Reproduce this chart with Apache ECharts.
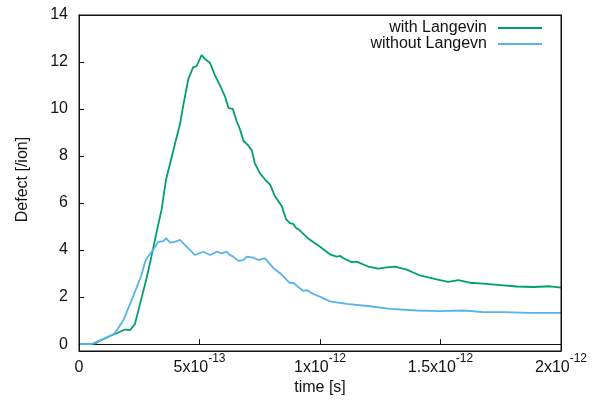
<!DOCTYPE html>
<html>
<head>
<meta charset="utf-8">
<script src="https://cdn.jsdelivr.net/npm/echarts@6/dist/echarts.min.js"></script>
<style>
html,body{margin:0;padding:0;background:#fff;overflow:hidden}
#wrap{position:relative;width:599px;height:401px}
#c,#f{position:absolute;left:0;top:0;width:599px;height:401px}
#f{pointer-events:none;z-index:2}
</style>
</head>
<body>
<div id="wrap"><div id="c"></div><div id="f"></div></div>
<script>
// time in units of 1e-13 s
var timeWith = [0,0.4,0.66,0.87,1.2,1.56,1.91,2.12,2.32,2.53,2.81,3.02,3.22,3.43,3.61,3.78,3.98,4.05,4.19,4.33,4.54,4.74,4.88,5.09,5.23,5.44,5.5,5.64,5.85,6.06,6.2,6.38,6.54,6.68,6.82,7.02,7.17,7.3,7.51,7.72,7.93,8.13,8.41,8.59,8.75,8.89,9.0,9.17,9.51,10.0,10.41,10.69,10.85,10.97,11.31,11.52,12.0,12.42,12.77,13.11,13.6,14.15,14.84,15.32,15.74,16.22,16.78,17.61,18.16,18.85,19.54,20];
var defectWith = [0,0,0.02,0.15,0.3,0.46,0.62,0.6,0.85,1.7,2.82,3.8,4.76,5.74,6.99,7.68,8.51,8.79,9.35,10.18,11.29,11.78,11.82,12.29,12.13,11.96,11.94,11.43,11.01,10.53,10.04,10.01,9.49,9.14,8.65,8.45,8.24,7.68,7.26,7.0,6.78,6.29,5.88,5.32,5.15,5.11,4.95,4.83,4.49,4.14,3.82,3.72,3.75,3.65,3.49,3.51,3.3,3.21,3.26,3.3,3.17,2.92,2.75,2.65,2.72,2.61,2.57,2.5,2.45,2.43,2.46,2.4];
var timeWithout = [0,0.5,0.87,1.2,1.49,1.84,2.12,2.39,2.6,2.74,2.81,3.02,3.29,3.5,3.61,3.78,3.98,4.19,4.4,4.61,4.81,5.16,5.44,5.71,5.92,6.13,6.25,6.4,6.61,6.82,6.96,7.23,7.44,7.72,8.06,8.41,8.73,8.9,9.1,9.31,9.45,9.72,10.07,10.41,11.11,12.07,12.9,14.01,14.98,15.95,16.78,17.61,18.71,20];
var defectWithout = [0,0,0.15,0.3,0.46,1.01,1.71,2.4,2.96,3.5,3.65,3.93,4.35,4.38,4.51,4.32,4.35,4.43,4.21,4.0,3.79,3.93,3.79,3.93,3.86,3.93,3.8,3.72,3.54,3.57,3.72,3.68,3.58,3.65,3.24,2.96,2.61,2.6,2.43,2.26,2.3,2.13,1.99,1.82,1.71,1.61,1.5,1.43,1.4,1.43,1.36,1.36,1.33,1.33];
var seriesNames = ['with Langevin', 'without Langevn'];
var xTickLabels = {0: ['0', ''], 5: ['5x10', '-13'], 10: ['1x10', '-12'], 15: ['1.5x10', '-12'], 20: ['2x10', '-12']};

function pairs(xs, ys) { return xs.map(function (x, i) { return [x, ys[i]]; }); }

var FONT = 'Liberation Sans';
var INK = '#111';
function axisLine() { return {show: true, onZero: false, lineStyle: {color: INK, width: 1}}; }
function ticks() { return {show: true, inside: true, length: 5, lineStyle: {color: INK, width: 1}}; }

// Overlay chart: full frame (all four sides) with inward ticks
try {
  var frame = echarts.init(document.getElementById('f'));
  frame.setOption({
    animation: false,
    grid: {left: 79, right: 38, top: 15, bottom: 50, show: true, borderColor: INK, borderWidth: 1},
    xAxis: [{type: 'value', min: 0, max: 20, interval: 5, axisLine: axisLine(), axisTick: ticks(), axisLabel: {show: false}, splitLine: {show: false}},
            {type: 'value', min: 0, max: 20, interval: 5, position: 'top', axisLine: axisLine(), axisTick: ticks(), axisLabel: {show: false}, splitLine: {show: false}}],
    yAxis: [{type: 'value', min: 0, max: 14, interval: 2, axisLine: axisLine(), axisTick: ticks(), axisLabel: {show: false}, splitLine: {show: false}},
            {type: 'value', min: 0, max: 14, interval: 2, position: 'right', axisLine: axisLine(), axisTick: ticks(), axisLabel: {show: false}, splitLine: {show: false}}],
    series: [{type: 'line', data: pairs(timeWith, defectWith), symbol: 'none', silent: true, lineStyle: {opacity: 0}}]
  });
} catch (e) {}

try {
  var chart = echarts.init(document.getElementById('c'));
  chart.setOption({
    animation: false,
    textStyle: {fontFamily: FONT},
    grid: {left: 79, right: 38, top: 15, bottom: 50},
    legend: {
      orient: 'vertical', right: 57, top: 20, align: 'right',
      itemWidth: 44, itemHeight: 2, itemGap: 0, icon: 'rect', padding: 0,
      textStyle: {fontFamily: FONT, fontSize: 16, lineHeight: 16, color: INK, padding: [0, 6, 0, 0]},
      data: seriesNames
    },
    xAxis: [{
      type: 'value', min: 0, max: 20, interval: 5,
      name: 'time [s]', nameLocation: 'middle', nameGap: 35,
      nameTextStyle: {fontFamily: FONT, fontSize: 16, color: INK},
      axisLine: axisLine(), axisTick: ticks(), splitLine: {show: false},
      axisLabel: {
        margin: 9, color: INK,
        formatter: function (v) {
          var t = xTickLabels[v];
          if (!t) return '';
          return t[1] ? '{a|' + t[0] + '}{s|' + t[1] + '}' : '{a|' + t[0] + '}';
        },
        rich: {
          a: {fontFamily: FONT, fontSize: 16, color: INK, lineHeight: 22, verticalAlign: 'bottom'},
          s: {fontFamily: FONT, fontSize: 12, color: INK, lineHeight: 22, verticalAlign: 'top'}
        }
      }
    }],
    yAxis: [{
      type: 'value', min: 0, max: 14, interval: 2,
      name: 'Defect [/ion]', nameLocation: 'middle', nameGap: 48, nameRotate: 90,
      nameTextStyle: {fontFamily: FONT, fontSize: 16, color: INK},
      axisLine: axisLine(), axisTick: ticks(), splitLine: {show: false},
      axisLabel: {margin: 11, fontFamily: FONT, fontSize: 16, color: INK}
    }],
    series: [{
      name: seriesNames[0], type: 'line', showSymbol: false, symbol: 'none',
      data: pairs(timeWith, defectWith),
      lineStyle: {color: '#009e73', width: 1.8}, itemStyle: {color: '#009e73'}
    }, {
      name: seriesNames[1], type: 'line', showSymbol: false, symbol: 'none',
      data: pairs(timeWithout, defectWithout),
      lineStyle: {color: '#56b4e9', width: 1.8}, itemStyle: {color: '#56b4e9'}
    }]
  });
} catch (e) {}
</script>
</body>
</html>
